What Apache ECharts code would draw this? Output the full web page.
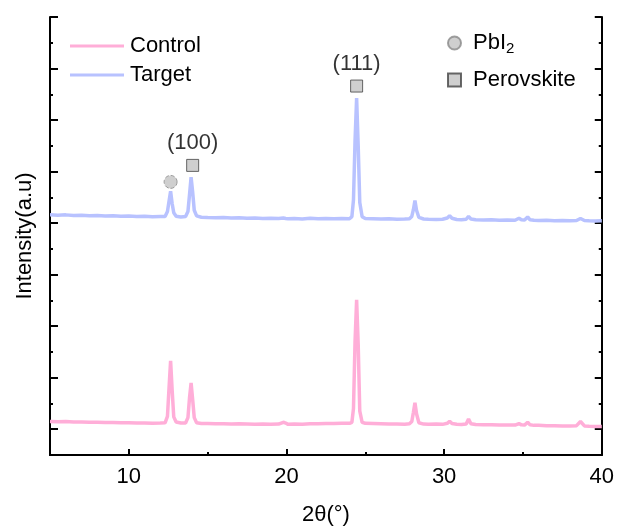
<!DOCTYPE html>
<html>
<head>
<meta charset="utf-8">
<script src="https://cdn.jsdelivr.net/npm/echarts@6/dist/echarts.min.js"></script>
<style>html,body{margin:0;padding:0;background:#fff;}#c{width:617px;height:531px;}</style>
</head>
<body>
<div id="c"></div>
<script>
// 2θ grid (degrees)
const twoTheta = [5.0,5.5,6.0,6.5,7.0,7.5,8.0,8.5,9.0,9.5,10.0,10.5,11.0,11.5,12.0,12.3,12.45,12.55,12.65,12.75,12.85,13.0,13.3,13.6,13.75,13.85,13.95,14.05,14.15,14.3,14.6,15.0,15.5,16.0,16.5,17.0,17.5,18.0,18.5,19.0,19.5,19.8,19.95,20.1,20.5,21.0,21.5,22.0,22.5,23.0,23.5,24.0,24.15,24.25,24.35,24.45,24.55,24.65,24.8,25.0,25.5,26.0,26.5,27.0,27.5,27.8,27.95,28.05,28.15,28.25,28.4,28.7,29.0,29.5,29.9,30.2,30.35,30.5,30.8,31.1,31.4,31.55,31.7,32.0,32.5,33.0,33.5,34.0,34.5,34.75,34.9,35.1,35.3,35.45,35.7,36.0,36.5,37.0,37.5,38.0,38.4,38.65,38.9,39.2,39.6,40.0];
// Intensities (a.u.)
const targetI = [932,931,932,930,931,929,930,928,929,927,928,926,927,925,926,926,945,985,1024,975,940,927,924,926,945,1010,1078,1020,950,928,923,922,921,922,920,921,919,920,918,919,918,920,918,917,918,916,919,917,918,917,918,917,925,990,1220,1385,1200,980,925,918,917,916,917,915,916,917,926,952,988,950,922,916,915,914,915,920,929,919,914,913,915,926,916,913,912,913,911,912,911,919,913,912,924,913,911,910,911,909,910,909,910,918,910,909,908,909];
const controlI = [130,129,130,128,128,127,127,126,126,125,125,124,124,123,124,125,150,260,365,250,148,128,124,124,145,222,280,215,145,125,122,122,121,121,120,121,120,119,120,119,120,127,124,119,120,119,121,121,122,122,123,123,127,180,440,602,430,170,127,123,122,121,120,120,119,121,130,165,203,160,125,120,119,120,119,123,131,122,119,118,120,140,121,118,117,117,116,116,116,122,117,116,127,117,115,115,114,114,113,113,114,130,113,112,111,111];
// Tick values
const xMajorTicks = [10,20,30,40];
const xMinorTicks = [15,25,35];
const yMajorTicks = [100,300,500,700,900,1100,1300,1500,1700];
const yMinorTicks = [200,400,600,800,1000,1200,1400,1600];
// Phase markers: [2θ, height, label]
const pbi2Marks = [[12.65,1060,'']];
const perovskiteMarks = [[14.05,1124,'(100)'],[24.45,1432,'(111)']];

const FONT = 'Liberation Sans, Arial, sans-serif';
const FS = 22;
const chart = echarts.init(document.getElementById('c'));
const zipXY = (ys) => twoTheta.map((x,i)=>[x, ys[i]]);
const blackLine = {show:true, lineStyle:{color:'#000', width:2}};
function xAx(opts){ return Object.assign({type:'value', min:5, max:40, splitLine:{show:false}, axisLabel:{show:false}, axisTick:{show:false}, axisLine:{show:false}}, opts); }
function yAx(opts){ return Object.assign({type:'value', min:0, max:1700, splitLine:{show:false}, axisLabel:{show:false}, axisTick:{show:false}, axisLine:{show:false}}, opts); }

chart.setOption({
  animation:false,
  backgroundColor:'#fff',
  textStyle:{fontFamily:FONT},
  grid:{left:50, right:15, top:17, bottom:72},
  xAxis:[
    xAx({position:'bottom', axisLine:blackLine,
      axisTick:{show:true, inside:true, length:6, lineStyle:{color:'#000', width:2}, customValues:xMajorTicks},
      axisLabel:{show:true, customValues:xMajorTicks, color:'#000', fontSize:FS, fontFamily:FONT, margin:11},
      name:'2θ(°)', nameLocation:'middle', nameGap:49, nameTextStyle:{color:'#000', fontSize:FS, fontFamily:FONT}}),
    xAx({position:'bottom', axisTick:{show:true, inside:true, length:3, lineStyle:{color:'#000', width:2}, customValues:xMinorTicks}}),
    xAx({position:'top', axisLine:blackLine})
  ],
  yAxis:[
    yAx({position:'left', axisLine:blackLine,
      axisTick:{show:true, inside:true, length:8, lineStyle:{color:'#000', width:2}, customValues:yMajorTicks},
      name:'Intensity(a.u)', nameLocation:'middle', nameGap:14, nameTextStyle:{color:'#000', fontSize:FS, fontFamily:FONT}}),
    yAx({position:'left', axisTick:{show:true, inside:true, length:3, lineStyle:{color:'#000', width:2}, customValues:yMinorTicks}}),
    yAx({position:'right', axisLine:blackLine, axisTick:{show:true, inside:true, length:7, lineStyle:{color:'#000', width:2}, customValues:yMajorTicks}}),
    yAx({position:'right', axisTick:{show:true, inside:true, length:3, lineStyle:{color:'#000', width:2}, customValues:yMinorTicks}})
  ],
  legend:[
    {data:[{name:'Control', icon:'rect'},{name:'Target', icon:'rect'}], orient:'vertical', left:70, top:35, padding:0,
     itemWidth:54, itemHeight:3, itemGap:7,
     textStyle:{color:'#000', fontSize:FS, fontFamily:FONT, padding:[0,0,0,1]}},
    {data:['PbI2','Perovskite'], orient:'vertical', left:447, top:30, padding:0, itemWidth:13, itemHeight:13, itemGap:13,
     formatter:(n)=> n==='PbI2' ? '{n|PbI}{s|2}' : '{n|'+n+'}',
     textStyle:{color:'#000', fontSize:FS, fontFamily:FONT, padding:[0,0,0,7],
       rich:{n:{fontSize:FS, fontFamily:FONT, color:'#000', lineHeight:24}, s:{fontSize:15, fontFamily:FONT, color:'#000', lineHeight:24, padding:[11,0,0,0]}}}}
  ],
  series:[
    {name:'Control', type:'line', data:zipXY(controlI), symbol:'none', lineStyle:{color:'#ffaed8', width:3.5}, itemStyle:{color:'#ffaed8'}, z:3},
    {name:'Target', type:'line', data:zipXY(targetI), symbol:'none', lineStyle:{color:'#b8c2ff', width:3.5}, itemStyle:{color:'#b8c2ff'}, z:3},
    {name:'PbI2', type:'scatter', data:pbi2Marks, symbol:'circle', symbolSize:13,
     itemStyle:{color:'#c3c3c3', borderColor:'#888', borderWidth:1, borderType:'dashed'}, z:5},
    {name:'Perovskite', type:'scatter', data:perovskiteMarks, symbol:'rect', symbolSize:12,
     itemStyle:{color:'#c3c3c3', borderColor:'#444', borderWidth:1}, z:5,
     label:{show:true, position:'top', distance:5, formatter:(p)=>p.data[2], color:'#000', fontSize:FS, fontFamily:FONT, textBorderWidth:0}}
  ]
});
</script>
</body>
</html>
